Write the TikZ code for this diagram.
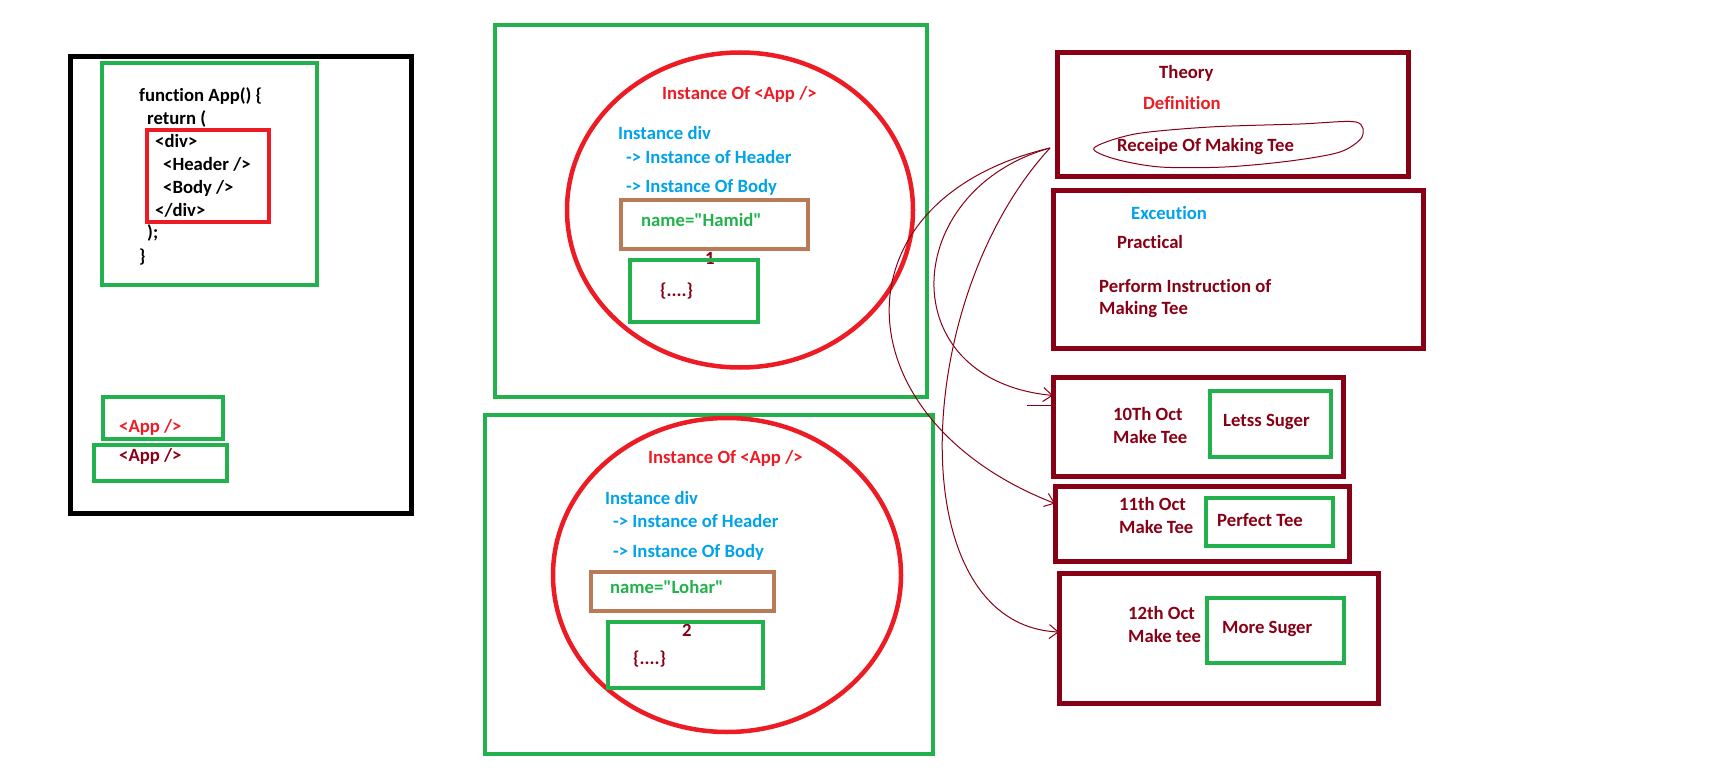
\documentclass[tikz,border=0pt]{standalone}
\usepackage{fontspec}
\setmainfont{Carlito}[Ligatures={NoCommon}]
\usetikzlibrary{shapes.geometric,arrows.meta,positioning}
\definecolor{paintgreen}{HTML}{22B14C}
\definecolor{paintred}{HTML}{ED1C24}
\definecolor{paintmaroon}{HTML}{880015}
\definecolor{paintbrown}{HTML}{B97A57}
\definecolor{paintblue}{HTML}{00A2E8}
\tikzset
{
    box/.style       = {rectangle, anchor=north west, inner sep=0pt, outer sep=0pt},
    blackbox/.style  = {box, draw=black, line width=5pt},
    greenbox/.style  = {box, draw=paintgreen, line width=4.5pt},
    redbox/.style    = {box, draw=paintred, line width=4.5pt},
    brownbox/.style  = {box, draw=paintbrown, line width=4.5pt},
    daybox/.style    = {box, draw=paintmaroon, line width=5pt},
    ring/.style      = {ellipse, draw=paintred, line width=4.5pt, inner sep=0pt},
    label/.style     = {anchor=base west, inner sep=0pt, font=\fontsize{18.7}{22}\selectfont\bfseries},
    scribble/.style  = {draw=paintmaroon, line width=1pt},
    scribblearrow/.style = {scribble, -{Straight Barb[length=9pt,width=14pt]}}
}
\begin{document}
\begin{tikzpicture}[x=1pt, y=-1pt]
\useasboundingbox (0,0) rectangle (1725,778);
% component definition
\node[blackbox, minimum width=341, minimum height=456] (frame) at (70,57) {};
\node[greenbox, minimum width=215, minimum height=222] (codebox) at (102,63) {};
\node[redbox, minimum width=122, minimum height=92] (divbox) at (147,130) {};
\node[label] (l1) at (139,102) {function App() \{};
\node[label] (l2) at (147,125) {return (};
\node[label] (l3) at (155,148) {<div>};
\node[label] (l4) at (163,171) {<Header />};
\node[label] (l5) at (163,194) {<Body />};
\node[label] (l6) at (155,217) {</div>};
\node[label] (l7) at (147,239) {);};
\node[label] (l8) at (139,263) {\}};
\node[greenbox, minimum width=120, minimum height=42] (usebox1) at (103,397) {};
\node[greenbox, minimum width=133, minimum height=36] (usebox2) at (94,445) {};
\node[label, paintred] (use1) at (119,432) {<App />};
\node[label, paintmaroon] (use2) at (119,461) {<App />};
% first instance
\node[greenbox, minimum width=432, minimum height=372] (inst1) at (495,25) {};
\node[ring, minimum width=346, minimum height=315] (ring1) at (740,210) {};
\node[label, paintred] (title1) at (662,100) {Instance Of <App />};
\node[label, paintblue] (div1) at (618,140) {Instance div};
\node[label, paintblue] (head1) at (626,164) {-> Instance of Header};
\node[label, paintblue] (body1) at (626,193) {-> Instance Of Body};
\node[brownbox, minimum width=187, minimum height=49] (propbox1) at (621,200) {};
\node[label, paintgreen] (prop1) at (641,227) {name=\textquotedbl Hamid\textquotedbl};
\node[label, paintmaroon] (num1) at (705,265) {1};
\node[greenbox, minimum width=128, minimum height=62] (statebox1) at (630,260) {};
\node[label, paintmaroon] (state1) at (660,297) {\{....\}};
% second instance
\node[greenbox, minimum width=448, minimum height=339] (inst2) at (485,415) {};
\node[ring, minimum width=348, minimum height=314] (ring2) at (727,575) {};
\node[label, paintred] (title2) at (648,463) {Instance Of <App />};
\node[label, paintblue] (div2) at (605,504) {Instance div};
\node[label, paintblue] (head2) at (613,527) {-> Instance of Header};
\node[label, paintblue] (body2) at (613,557) {-> Instance Of Body};
\node[brownbox, minimum width=183, minimum height=39] (propbox2) at (591,572) {};
\node[label, paintgreen] (prop2) at (610,593) {name=\textquotedbl Lohar\textquotedbl};
\node[label, paintmaroon] (num2) at (682,636) {2};
\node[greenbox, minimum width=155, minimum height=66] (statebox2) at (608,622) {};
\node[label, paintmaroon] (state2) at (633,664) {\{....\}};
% theory and practice
\node[daybox, minimum width=351, minimum height=124] (theory) at (1057,53) {};
\node[label, paintmaroon] (theorytitle) at (1159,79) {Theory};
\node[label, paintred] (definition) at (1143,110) {Definition};
\node[label, paintmaroon] (recipe) at (1117,152) {Receipe Of Making Tee};
\draw[scribble] plot[smooth cycle] coordinates {(1094,148) (1135,134) (1210,127) (1300,124) (1356,122) (1362,137) (1340,152) (1290,161) (1225,167) (1160,167) (1115,159)};
\node[daybox, minimum width=370, minimum height=157] (practice) at (1053,191) {};
\node[label, paintblue] (exec) at (1131,220) {Exceution};
\node[label, paintmaroon] (practical) at (1117,249) {Practical};
\node[label, paintmaroon] (perform1) at (1099,292) {Perform Instruction of};
\node[label, paintmaroon] (perform2) at (1099,315) {Making Tee};
% days
\node[daybox, minimum width=290, minimum height=99] (day1) at (1053,377) {};
\node[label, paintmaroon] (date1) at (1113,420) {10Th Oct};
\node[label, paintmaroon] (make1) at (1113,443) {Make Tee};
\node[greenbox, minimum width=121, minimum height=66] (tweak1) at (1210,391) {};
\node[label, paintmaroon] (tweaktext1) at (1223,426) {Letss Suger};
\node[daybox, minimum width=294, minimum height=75] (day2) at (1055,486) {};
\node[label, paintmaroon] (date2) at (1119,510) {11th Oct};
\node[label, paintmaroon] (make2) at (1119,533) {Make Tee};
\node[greenbox, minimum width=127, minimum height=48] (tweak2) at (1206,498) {};
\node[label, paintmaroon] (tweaktext2) at (1217,526) {Perfect Tee};
\node[daybox, minimum width=319, minimum height=130] (day3) at (1059,573) {};
\node[label, paintmaroon] (date3) at (1128,619) {12th Oct};
\node[label, paintmaroon] (make3) at (1128,642) {Make tee};
\node[greenbox, minimum width=137, minimum height=65] (tweak3) at (1207,598) {};
\node[label, paintmaroon] (tweaktext3) at (1222,633) {More Suger};
% recipe used on each day
\coordinate (src) at (1050,148);
\draw[scribblearrow] (src) .. controls (900,190) and (890,380) .. ([yshift=31]day1.west);
\draw[scribble] ([yshift=21]day1.west) -- ++(-26,0);
\draw[scribblearrow] (src) .. controls (830,200) and (840,420) .. ([yshift=20]day2.west);
\draw[scribblearrow] (src) .. controls (910,300) and (900,625) .. ([yshift=6]day3.west);
\end{tikzpicture}
\end{document}
